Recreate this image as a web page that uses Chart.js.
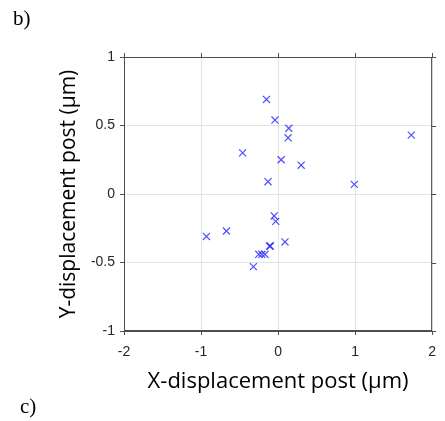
<!DOCTYPE html>
<html>
<head>
<meta charset="utf-8">
<script src="https://cdn.jsdelivr.net/npm/chart.js@4.4.1/dist/chart.umd.min.js"></script>
<style>
  html, body { margin: 0; padding: 0; background: #fff; }
  #wrap { position: relative; width: 445px; height: 421px; }
  .panel { position: absolute; font-family: "Liberation Serif", "DejaVu Serif", serif; font-size: 21px; color: #000; }
</style>
</head>
<body>
<div id="wrap">
  <canvas id="chart" width="445" height="421"></canvas>
  <div class="panel" style="left:13px; top:6px;">b)</div>
  <div class="panel" style="left:20px; top:394px;">c)</div>
</div>
<script>
// post displacements (µm)
const xValues = [-0.15, -0.04, 0.14, 0.13, 1.73, -0.46, 0.04, 0.30, -0.13, 0.99,
                 -0.05, -0.03, -0.93, -0.67, -0.11, -0.10, 0.09, -0.25, -0.21, -0.17, -0.32];
const yValues = [0.69, 0.54, 0.48, 0.41, 0.43, 0.30, 0.25, 0.21, 0.09, 0.07,
                 -0.16, -0.20, -0.31, -0.27, -0.38, -0.38, -0.35, -0.44, -0.44, -0.44, -0.53];
const xTicks = [-2, -1, 0, 1, 2];
const yTicks = [-1, -0.5, 0, 0.5, 1];

const points = xValues.map((x, i) => ({ x: x, y: yValues[i] }));

const tickFont = { family: "Liberation Sans", size: 14 };

// box around plot + outward ticks on top and right (matlab style)
const boxPlugin = {
  id: 'box',
  afterDatasetsDraw(chart) {
    const { ctx, chartArea: a, scales } = chart;
    ctx.save();
    ctx.strokeStyle = '#4d4d4d';
    ctx.lineWidth = 1;
    ctx.strokeRect(a.left + 0.5, a.top + 0.5, a.right - a.left - 1, a.bottom - a.top - 1);
    ctx.beginPath();
    xTicks.forEach(v => {
      const px = Math.round(scales.x.getPixelForValue(v)) + 0.5;
      ctx.moveTo(px, a.top); ctx.lineTo(px, a.top - 4);
    });
    yTicks.forEach(v => {
      const py = Math.round(scales.y.getPixelForValue(v)) + 0.5;
      ctx.moveTo(a.right, py); ctx.lineTo(a.right + 4, py);
    });
    ctx.stroke();
    ctx.restore();
  }
};

new Chart(document.getElementById('chart'), {
  type: 'scatter',
  data: {
    datasets: [{
      data: points,
      pointStyle: 'crossRot',
      pointRadius: 5,
      pointHoverRadius: 5,
      borderColor: 'rgba(20, 20, 255, 0.75)',
      backgroundColor: 'rgba(20, 20, 255, 0.75)',
      borderWidth: 1.2,
    }],
  },
  options: {
    responsive: false,
    animation: false,
    events: [],
    layout: { padding: { left: 0, top: 57, right: 6, bottom: 0 } },
    plugins: { legend: { display: false }, tooltip: { enabled: false } },
    scales: {
      x: {
        type: 'linear',
        min: -2, max: 2,
        afterBuildTicks: s => { s.ticks = xTicks.map(v => ({ value: v })); },
        afterFit: s => { s.height = 90; },
        grid: { color: '#e3e3e3', tickColor: '#4d4d4d', tickLength: 4 },
        border: { color: '#4d4d4d' },
        ticks: { font: tickFont, color: '#262626', padding: 9, maxRotation: 0, minRotation: 0, autoSkip: false,
                 callback: v => String(v) },
        title: { display: true, text: 'X-displacement post (µm)', font: { family: "Open Sans", size: 22 },
                 color: '#000', padding: { bottom: 26 } },
      },
      y: {
        type: 'linear',
        min: -1, max: 1,
        afterBuildTicks: s => { s.ticks = yTicks.map(v => ({ value: v })); },
        afterFit: s => { s.width = 124; },
        grid: { color: '#e3e3e3', tickColor: '#4d4d4d', tickLength: 4 },
        border: { color: '#4d4d4d' },
        ticks: { font: tickFont, color: '#262626', padding: 5, autoSkip: false,
                 callback: v => String(v) },
        title: { display: true, text: 'Y-displacement post (µm)', font: { family: "Open Sans", size: 21 },
                 color: '#000', padding: { top: 56 } },
      },
    },
  },
  plugins: [boxPlugin],
});
</script>
</body>
</html>
